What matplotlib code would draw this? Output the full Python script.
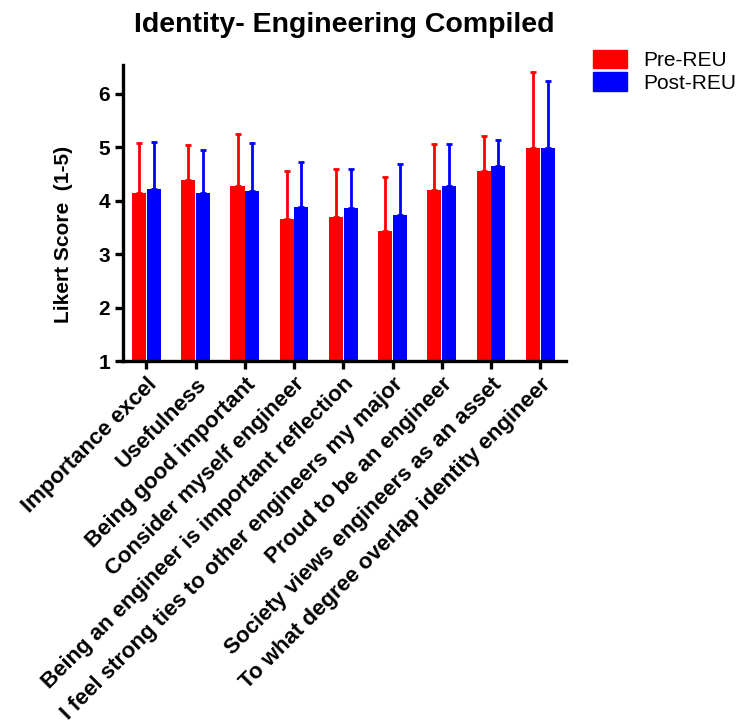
import matplotlib
matplotlib.use("Agg")
import matplotlib.pyplot as plt
import numpy as np
from matplotlib.patches import Patch

plt.rcParams['font.family'] = ['Liberation Sans', 'DejaVu Sans']

categories = [
    "Importance excel",
    "Usefulness",
    "Being good important",
    "Consider myself engineer",
    "Being an engineer is important reflection",
    "I feel strong ties to other engineers my major",
    "Proud to be an engineer",
    "Society views engineers as an asset",
    "To what degree overlap identity engineer",
]
pre_mean = [4.14, 4.39, 4.27, 3.65, 3.69, 3.44, 4.19, 4.56, 4.98]
pre_sd = [0.94, 0.64, 0.98, 0.90, 0.91, 1.00, 0.86, 0.64, 1.42]
post_mean = [4.22, 4.14, 4.18, 3.89, 3.86, 3.73, 4.27, 4.64, 4.98]
post_sd = [0.88, 0.80, 0.90, 0.84, 0.74, 0.95, 0.78, 0.49, 1.26]
series_names = ["Pre-REU", "Post-REU"]
y_ticks = [1, 2, 3, 4, 5, 6]

fig = plt.figure(figsize=(7.49, 7.24), dpi=100)
ax = fig.add_axes([0.164, 0.501, 0.592, 0.409])

x = np.arange(len(categories))
w = 0.285
base = 1.0
red, blue = "#ff0000", "#0000ff"

for means, sds, off, col in [(pre_mean, pre_sd, -0.15, red), (post_mean, post_sd, 0.15, blue)]:
    heights = np.array(means) - base
    ax.bar(x + off, heights, width=w, bottom=base, color=col,
           edgecolor="none", linewidth=0, zorder=2)
    ax.errorbar(x + off, means, yerr=[np.zeros(len(sds)), sds], fmt="none",
                ecolor=col, elinewidth=2, capsize=2.5, capthick=2, zorder=1)

ax.set_ylim(1, 6.53)
ax.set_xlim(-0.48, 8.53)
ax.set_yticks(y_ticks)
ax.set_yticklabels([str(t) for t in y_ticks], fontsize=15, fontweight="bold")
ax.set_xticks(x)
ax.set_xticklabels(categories, rotation=45, ha="right", rotation_mode="anchor",
                   fontsize=16, fontweight="bold")

for s in ["top", "right"]:
    ax.spines[s].set_visible(False)
for s in ["left", "bottom"]:
    ax.spines[s].set_linewidth(2.4)
ax.tick_params(axis="both", direction="out", length=6, width=2.4, pad=3)

ax.set_ylabel("Likert Score  (1-5)", fontsize=15, fontweight="bold")
ax.yaxis.set_label_coords(-0.113, 0.43)
ax.set_title("Identity- Engineering Compiled", fontsize=20.5, fontweight="bold", pad=24)

handles = [Patch(facecolor=red, edgecolor=red, label=series_names[0]),
           Patch(facecolor=blue, edgecolor=blue, label=series_names[1])]
fig.legend(handles=handles, loc="upper left", bbox_to_anchor=(0.781, 0.943),
           frameon=False, fontsize=15, handlelength=1.6, handleheight=1.0,
           handletextpad=0.8, labelspacing=0.1, borderaxespad=0)

fig.savefig("out.png", dpi=100)
